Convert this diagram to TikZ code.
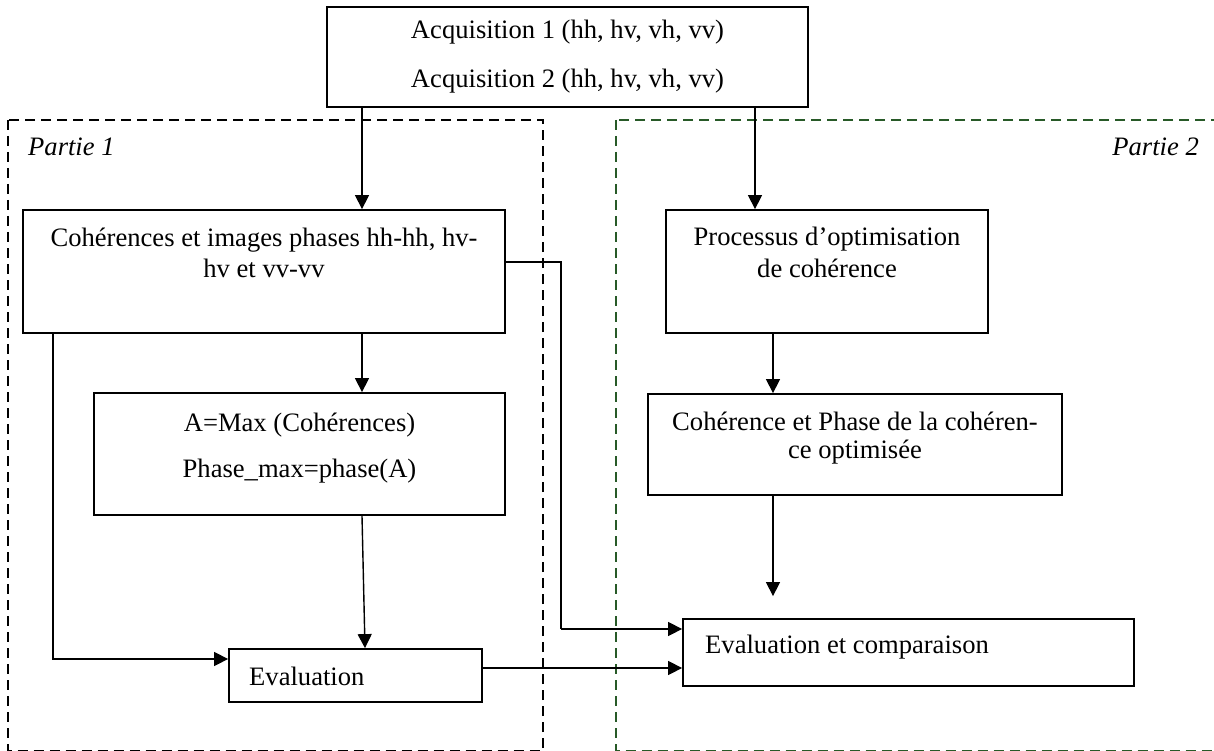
\documentclass[tikz,border=0pt]{standalone}
\usepackage{fontspec}
\setmainfont{Liberation Serif}
\usetikzlibrary{arrows.meta}
\definecolor{partgreen}{RGB}{40,90,40}
\tikzset{
  box/.style={draw=black, line width=1.8pt, inner sep=0pt, fill=white},
  txt/.style={inner sep=0pt, anchor=base, font=\fontsize{26.6}{30}\selectfont},
  txtl/.style={txt, anchor=base west},
  arr/.style={line width=1.4pt, -{Triangle[length=14pt,width=14pt]}},
  plain/.style={line width=1.4pt},
  part/.style={line width=1.8pt, dash pattern=on 10pt off 6pt},
  parttxt/.style={inner sep=0pt, font=\fontsize{26.6}{30}\selectfont\itshape}
}
\begin{document}
\begin{tikzpicture}[x=1pt,y=-1pt]
\useasboundingbox (0,0) rectangle (1214,751);
% dashed regions
\draw[part, black] (8,120) rectangle (543,750.5);
\draw[part, partgreen] (616,120) rectangle (1240,750.5);
\node[parttxt, anchor=base west] (p1) at (28,156) {Partie 1};
\node[parttxt, anchor=base east] (p2) at (1199,156) {Partie 2};
% boxes
\node[box, minimum width=481pt, minimum height=100pt] (top) at (567.5,57) {};
\node[box, minimum width=482pt, minimum height=123pt] (coh) at (264,271.5) {};
\node[box, minimum width=322pt, minimum height=123pt] (proc) at (827,271.5) {};
\node[box, minimum width=411pt, minimum height=122pt] (amax) at (299.5,454) {};
\node[box, minimum width=414pt, minimum height=101pt] (cohopt) at (855,444.5) {};
\node[box, minimum width=253pt, minimum height=53pt] (eval) at (355.5,675.5) {};
\node[box, minimum width=451pt, minimum height=67pt] (evalc) at (908.5,652.5) {};
% texts
\node[txt] (t1) at (567.5,39) {Acquisition 1 (hh, hv, vh, vv)};
\node[txt] (t2) at (567.5,88) {Acquisition 2 (hh, hv, vh, vv)};
\node[txt] (t3) at (264,247) {Cohérences et images phases hh-hh, hv-};
\node[txt] (t4) at (264,277) {hv et vv-vv};
\node[txt] (t5) at (827,246) {Processus d’optimisation};
\node[txt] (t6) at (827,277) {de cohérence};
\node[txt] (t7) at (299.5,431) {A=Max (Cohérences)};
\node[txt] (t8) at (299.5,477) {Phase\_max=phase(A)};
\node[txt] (t9) at (855,430) {Cohérence et Phase de la cohéren-};
\node[txt] (t10) at (855,458) {ce optimisée};
\node[txtl] (t11) at (249,685) {Evaluation};
\node[txtl] (t12) at (705,653) {Evaluation et comparaison};
% helper coordinates
\coordinate (cx1) at (362,0);
\coordinate (cx2) at (755,0);
\coordinate (cx3) at (365,0);
\coordinate (cx4) at (773,0);
\coordinate (k1) at (53,659);
\coordinate (k2) at (561,629);
\coordinate (k3) at (0,262);
\coordinate (k4) at (0,668);
% connectors
\draw[arr] (top.south -| cx1) -- (coh.north -| cx1);
\draw[arr] (top.south -| cx2) -- (proc.north -| cx2);
\draw[arr] (coh.south -| cx1) -- (amax.north -| cx1);
\draw[arr] (amax.south -| cx1) -- (eval.north -| cx3);
\draw[arr] (coh.south -| k1) |- (eval.west |- k1);
\draw[plain] (coh.east |- k3) -| (k2);
\draw[arr] (k2) -- (evalc.west |- k2);
\draw[arr] (eval.east |- k4) -- (evalc.west |- k4);
\draw[arr] (proc.south -| cx4) -- (cohopt.north -| cx4);
\draw[arr] (cohopt.south -| cx4) -- ([yshift=22pt]evalc.north -| cx4);
\end{tikzpicture}
\end{document}
